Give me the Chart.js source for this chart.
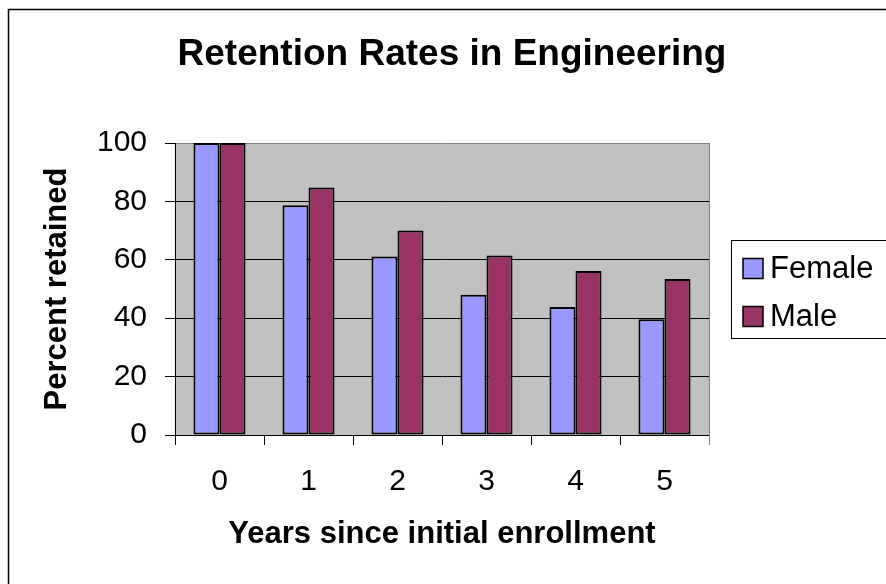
<!DOCTYPE html>
<html><head><meta charset="utf-8">
<script src="https://cdn.jsdelivr.net/npm/chart.js@4/dist/chart.umd.min.js"></script>
<style>html,body{margin:0;padding:0;background:#fff;overflow:hidden}</style>
</head><body>
<canvas id="c" width="886" height="584"></canvas>
<script>
// ---- data ----
const categories = ['0', '1', '2', '3', '4', '5'];
const seriesNames = ['Female', 'Male'];
const femaleValues = [100, 78.7, 61.1, 48.0, 43.8, 39.6];
const maleValues = [100, 84.8, 70.0, 61.5, 56.2, 53.4];
const yTickValues = [0, 20, 40, 60, 80, 100];
const chartTitle = 'Retention Rates in Engineering';
const xAxisTitle = 'Years since initial enrollment';
const yAxisTitle = 'Percent retained';

// ---- style ----
const FONT = '"Liberation Sans", Arial, sans-serif';
const COLORS = ['#9999FF', '#993366'];

const framePlugin = {
  id: 'frame',
  beforeDraw(chart) {
    const {ctx, chartArea: a} = chart;
    ctx.save();
    ctx.fillStyle = '#ffffff';
    ctx.fillRect(0, 0, chart.width, chart.height);
    ctx.fillStyle = '#C0C0C0';
    ctx.fillRect(a.left, a.top, a.right - a.left, a.bottom - a.top);
    ctx.restore();
  },
  beforeDatasetsDraw(chart) {
    const {ctx, chartArea: a} = chart;
    ctx.save();
    ctx.strokeStyle = '#808080';
    ctx.lineWidth = 1;
    ctx.beginPath();
    ctx.moveTo(Math.round(a.right) + 0.5, a.top);
    ctx.lineTo(Math.round(a.right) + 0.5, a.bottom + 10);
    ctx.stroke();
    ctx.restore();
  },
  afterDraw(chart) {
    const {ctx, chartArea: a} = chart;
    ctx.save();
    // outer chart border
    ctx.strokeStyle = '#000';
    ctx.lineWidth = 1.5;
    ctx.strokeRect(8.5, 9.5, chart.width + 20, chart.height + 20);
    // legend
    const boxLeft = a.right + 22;
    const mid = (a.top + a.bottom) / 2;
    const boxTop = Math.round(mid - 49) + 0.5;
    ctx.lineWidth = 1;
    ctx.strokeStyle = '#000';
    ctx.strokeRect(Math.round(boxLeft) + 0.5, boxTop, chart.width, 98);
    ctx.font = '31px ' + FONT;
    ctx.textBaseline = 'middle';
    ctx.textAlign = 'left';
    chart.data.datasets.forEach((ds, i) => {
      const cy = boxTop + 28 + i * 48;
      const sx = boxLeft + 12;
      ctx.fillStyle = ds.backgroundColor;
      ctx.fillRect(sx, cy - 10, 20, 20);
      ctx.lineWidth = 1.5;
      ctx.strokeStyle = '#000';
      ctx.strokeRect(sx, cy - 10, 20, 20);
      ctx.fillStyle = '#000';
      ctx.fillText(ds.label, sx + 27, cy + 1);
    });
    ctx.restore();
  }
};

new Chart(document.getElementById('c'), {
  type: 'bar',
  data: {
    labels: categories,
    datasets: [
      {label: seriesNames[0], data: femaleValues, backgroundColor: COLORS[0]},
      {label: seriesNames[1], data: maleValues, backgroundColor: COLORS[1]}
    ]
  },
  options: {
    responsive: false,
    animation: false,
    devicePixelRatio: 1,
    layout: {padding: {left: 18, right: 0, top: 0, bottom: 0}},
    datasets: {
      bar: {
        categoryPercentage: 0.585,
        barPercentage: 1,
        borderColor: '#000',
        borderWidth: 2,
        borderSkipped: false
      }
    },
    plugins: {
      legend: {display: false},
      tooltip: {enabled: false},
      title: {
        display: true,
        text: chartTitle,
        color: '#000',
        font: {family: FONT, size: 37, weight: 'bold'},
        padding: {top: 33, bottom: 65.6}
      }
    },
    scales: {
      x: {
        position: 'bottom',
        offset: true,
        grid: {display: true, drawOnChartArea: false, drawTicks: true, tickLength: 10, color: '#000', offset: true},
        border: {display: true, color: '#000', width: 1},
        ticks: {color: '#000', font: {family: FONT, size: 30}, padding: 19, maxRotation: 0},
        title: {display: true, text: xAxisTitle, color: '#000', font: {family: FONT, size: 31, weight: 'bold'}, padding: {top: 0, bottom: 31}},
        afterFit(s) { s.height = 149; }
      },
      y: {
        position: 'left',
        min: 0,
        max: 100,
        afterBuildTicks(s) { s.ticks = yTickValues.map(v => ({value: v})); },
        grid: {
          color: c => (c.tick && c.tick.value === 100 ? '#808080' : '#000'),
          tickColor: '#000',
          tickLength: 10,
          lineWidth: 1
        },
        border: {display: true, color: '#000', width: 1},
        ticks: {color: '#000', font: {family: FONT, size: 30}, padding: 18},
        title: {display: true, text: yAxisTitle, color: '#000', font: {family: FONT, size: 31, weight: 'bold'}, padding: {top: 21, bottom: 0}},
        afterFit(s) { s.width = 157; }
      },
      yRight: {
        type: 'linear',
        position: 'right',
        display: true,
        grid: {display: false, drawTicks: false},
        border: {display: false},
        ticks: {display: false},
        afterFit(s) { s.width = 177; }
      }
    }
  },
  plugins: [framePlugin]
});
</script>
</body></html>
